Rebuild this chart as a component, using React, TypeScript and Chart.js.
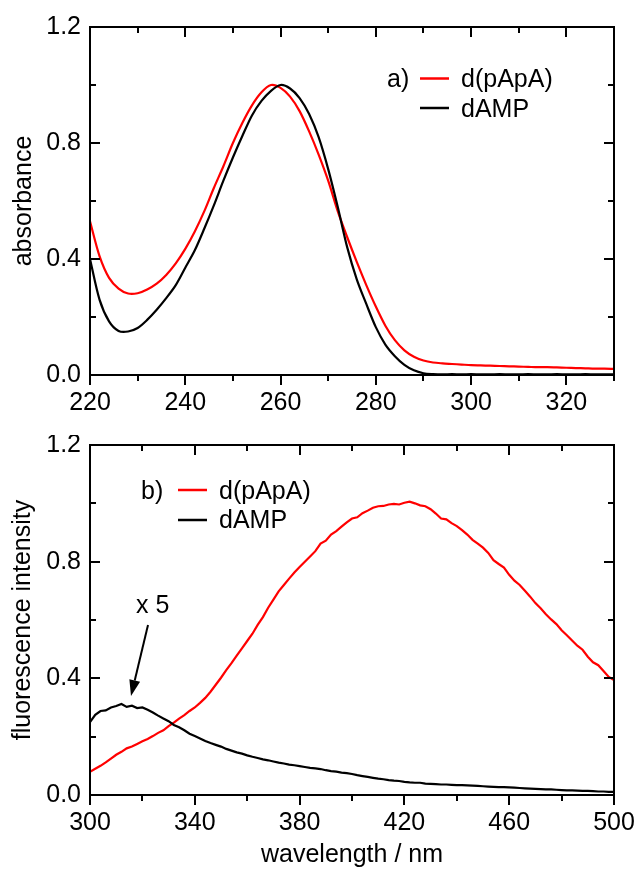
import React, { useEffect, useRef } from "react";
import { Chart, registerables } from "chart.js";

Chart.register(...registerables);

// ---------- data ----------
const ABS_WAVELENGTH = [
  220, 222, 224, 226, 228, 230, 232, 234, 236, 238, 240, 242, 244, 246, 248, 250,
  252, 254, 256, 258, 260, 262, 264, 266, 268, 270, 272, 274, 276, 278, 280, 282,
  284, 286, 288, 290, 292, 294, 296, 298, 300, 302, 304, 306, 308, 310, 312, 314,
  316, 318, 320, 322, 324, 326, 328, 330,
];
const ABS_DPAPA = [
  0.53, 0.41, 0.335, 0.298, 0.281, 0.282, 0.295, 0.315, 0.345, 0.385, 0.435, 0.495,
  0.565, 0.645, 0.72, 0.8, 0.87, 0.93, 0.975, 1.0, 0.99, 0.96, 0.91, 0.84, 0.76,
  0.67, 0.565, 0.475, 0.39, 0.31, 0.236, 0.17, 0.12, 0.085, 0.063, 0.05, 0.043,
  0.04, 0.038, 0.036, 0.034, 0.033, 0.032, 0.031, 0.03, 0.029, 0.028, 0.027,
  0.027, 0.026, 0.025, 0.024, 0.023, 0.022, 0.022, 0.021,
];
const ABS_DAMP = [
  0.4, 0.26, 0.185, 0.152, 0.15, 0.162, 0.19, 0.225, 0.265, 0.31, 0.37, 0.43,
  0.505, 0.585, 0.67, 0.75, 0.825, 0.895, 0.945, 0.98, 1.0, 0.988, 0.955, 0.9,
  0.82, 0.71, 0.58, 0.44, 0.33, 0.245, 0.165, 0.105, 0.065, 0.035, 0.016, 0.006,
  0.003, 0.002, 0.003, 0.002, 0.003, 0.002, 0.002, 0.003, 0.002, 0.002, 0.003,
  0.002, 0.002, 0.003, 0.002, 0.002, 0.003, 0.002, 0.002, 0.002,
];

const FL_WAVELENGTH = [
  300, 302, 304, 306, 308, 310, 312, 314, 316, 318, 320, 322, 324, 326, 328, 330,
  332, 334, 336, 338, 340, 342, 344, 346, 348, 350, 352, 354, 356, 358, 360, 362,
  364, 366, 368, 370, 372, 374, 376, 378, 380, 382, 384, 386, 388, 390, 392, 394,
  396, 398, 400, 402, 404, 406, 408, 410, 412, 414, 416, 418, 420, 422, 424, 426,
  428, 430, 432, 434, 436, 438, 440, 442, 444, 446, 448, 450, 452, 454, 456, 458,
  460, 462, 464, 466, 468, 470, 472, 474, 476, 478, 480, 482, 484, 486, 488, 490,
  492, 494, 496, 498, 500,
];
const FL_DPAPA = [
  0.08, 0.09, 0.1, 0.112, 0.125, 0.138, 0.148, 0.16, 0.166, 0.175, 0.184, 0.192,
  0.202, 0.213, 0.222, 0.236, 0.248, 0.262, 0.274, 0.288, 0.3, 0.316, 0.333, 0.354,
  0.378, 0.402, 0.428, 0.452, 0.478, 0.503, 0.528, 0.553, 0.583, 0.61, 0.642, 0.67,
  0.698, 0.72, 0.742, 0.763, 0.782, 0.8, 0.818, 0.836, 0.862, 0.872, 0.893, 0.905,
  0.92, 0.935, 0.948, 0.952, 0.966, 0.975, 0.985, 0.99, 0.991, 0.996, 0.998, 0.996,
  1.002, 1.006, 1.0, 0.993, 0.99, 0.98, 0.965, 0.948, 0.945, 0.932, 0.922, 0.908,
  0.893, 0.875, 0.862, 0.848, 0.83, 0.805, 0.792, 0.78, 0.755, 0.735, 0.72, 0.7,
  0.68, 0.658, 0.64, 0.62, 0.602, 0.586, 0.565, 0.548, 0.53, 0.512, 0.498, 0.474,
  0.455, 0.445, 0.425, 0.405, 0.394,
];
const FL_DAMP = [
  0.25, 0.275, 0.288, 0.29, 0.3, 0.305, 0.312, 0.302, 0.306, 0.298, 0.3, 0.292,
  0.283, 0.272, 0.262, 0.253, 0.24, 0.232, 0.222, 0.21, 0.202, 0.194, 0.185, 0.178,
  0.172, 0.166, 0.158, 0.152, 0.146, 0.142, 0.136, 0.131, 0.127, 0.122, 0.119,
  0.115, 0.111, 0.108, 0.104, 0.102, 0.099, 0.096, 0.093, 0.091, 0.089, 0.085,
  0.082, 0.08, 0.077, 0.075, 0.072, 0.068, 0.065, 0.062, 0.059, 0.056, 0.054,
  0.051, 0.049, 0.048, 0.045, 0.043, 0.042, 0.042, 0.039, 0.038, 0.037, 0.036,
  0.036, 0.035, 0.034, 0.034, 0.033, 0.032, 0.031, 0.03, 0.029, 0.028, 0.027,
  0.027, 0.026, 0.025, 0.024, 0.023, 0.022, 0.021, 0.02, 0.019, 0.019, 0.018,
  0.017, 0.016, 0.016, 0.015, 0.014, 0.014, 0.013, 0.012, 0.012, 0.011, 0.011,
];

const ABS_X_MAJOR = [220, 240, 260, 280, 300, 320];
const ABS_X_MINOR = [230, 250, 270, 290, 310, 330];
const FL_X_MAJOR = [300, 340, 380, 420, 460, 500];
const FL_X_MINOR = [320, 360, 400, 440, 480];
const Y_MAJOR = [0, 0.4, 0.8, 1.2];
const Y_MINOR = [0.2, 0.6, 1.0];

const SERIES_NAMES = ["d(pApA)", "dAMP"];
const SERIES_COLORS = ["#ff0000", "#000000"];
const PANEL_LABELS = ["a)", "b)"];
const ANNOTATION_TEXT = "x 5";

// ---------- styling ----------
const FONT = '"Liberation Sans", Arial, Helvetica, sans-serif';
const FS = 25;
const MAJ = 10;
const MIN = 6;

type LegendSpec = {
  label: string;
  labelX: number;
  lineX0: number;
  lineX1: number;
  textX: number;
  base1: number;
  base2: number;
  line1: number;
  line2: number;
};

function makeFramePlugin(
  xMajor: number[],
  xMinor: number[],
  legend: LegendSpec,
  annotation?: { text: string; tx: number; ty: number; ax0: number; ay0: number; ax1: number; ay1: number }
) {
  return {
    id: "frameTicks",
    afterDatasetsDraw(chart: any) {
      const { ctx, chartArea: a, scales } = chart;
      const xs = scales.x;
      const ys = scales.y;
      ctx.save();
      ctx.strokeStyle = "#000";
      ctx.lineWidth = 2;
      ctx.lineCap = "butt";
      ctx.beginPath();
      ctx.rect(a.left, a.top, a.right - a.left, a.bottom - a.top);
      ctx.stroke();

      ctx.beginPath();
      const xt = (v: number, len: number) => {
        const px = Math.round(xs.getPixelForValue(v));
        ctx.moveTo(px, a.bottom);
        ctx.lineTo(px, a.bottom + len);
        ctx.moveTo(px, a.top);
        ctx.lineTo(px, a.top + len);
      };
      const yt = (v: number, len: number) => {
        const py = Math.round(ys.getPixelForValue(v));
        ctx.moveTo(a.left, py);
        ctx.lineTo(a.left + len, py);
        ctx.moveTo(a.right, py);
        ctx.lineTo(a.right - len, py);
      };
      xMajor.forEach((v) => xt(v, MAJ));
      xMinor.forEach((v) => xt(v, MIN));
      Y_MAJOR.forEach((v) => yt(v, MAJ));
      Y_MINOR.forEach((v) => yt(v, MIN));
      ctx.stroke();

      // legend
      ctx.font = `${FS}px ${FONT}`;
      ctx.fillStyle = "#000";
      ctx.textBaseline = "alphabetic";
      ctx.textAlign = "left";
      ctx.fillText(legend.label, legend.labelX, legend.base1);
      ctx.fillText(SERIES_NAMES[0], legend.textX, legend.base1);
      ctx.fillText(SERIES_NAMES[1], legend.textX, legend.base2);
      ctx.lineWidth = 2.5;
      ctx.strokeStyle = SERIES_COLORS[0];
      ctx.beginPath();
      ctx.moveTo(legend.lineX0, legend.line1);
      ctx.lineTo(legend.lineX1, legend.line1);
      ctx.stroke();
      ctx.strokeStyle = SERIES_COLORS[1];
      ctx.beginPath();
      ctx.moveTo(legend.lineX0, legend.line2);
      ctx.lineTo(legend.lineX1, legend.line2);
      ctx.stroke();

      if (annotation) {
        ctx.fillStyle = "#000";
        ctx.fillText(annotation.text, annotation.tx, annotation.ty);
        const { ax0, ay0, ax1, ay1 } = annotation;
        const dx = ax1 - ax0;
        const dy = ay1 - ay0;
        const L = Math.hypot(dx, dy);
        const ux = dx / L;
        const uy = dy / L;
        const hl = 16;
        const hw = 5.5;
        const bx = ax1 - ux * hl;
        const by = ay1 - uy * hl;
        ctx.strokeStyle = "#000";
        ctx.lineWidth = 2;
        ctx.beginPath();
        ctx.moveTo(ax0, ay0);
        ctx.lineTo(bx, by);
        ctx.stroke();
        ctx.beginPath();
        ctx.moveTo(ax1, ay1);
        ctx.lineTo(bx - uy * hw, by + ux * hw);
        ctx.lineTo(bx + uy * hw, by - ux * hw);
        ctx.closePath();
        ctx.fill();
      }
      ctx.restore();
    },
  };
}

function buildConfig(opts: {
  xs: number[];
  s1: number[];
  s2: number[];
  xMin: number;
  xMax: number;
  xMajor: number[];
  xMinor: number[];
  yTitle: string;
  yTitlePad: number;
  xTitle?: string;
  padTop: number;
  xAxisHeight: number;
  tension: number;
  legend: LegendSpec;
  annotation?: any;
}) {
  const toPts = (ys: number[]) => opts.xs.map((x, i) => ({ x, y: ys[i] }));
  return {
    type: "line",
    data: {
      datasets: [
        {
          label: SERIES_NAMES[1],
          data: toPts(opts.s2),
          borderColor: SERIES_COLORS[1],
          borderWidth: 2.2,
          pointRadius: 0,
          tension: opts.tension,
          fill: false,
        },
        {
          label: SERIES_NAMES[0],
          data: toPts(opts.s1),
          borderColor: SERIES_COLORS[0],
          borderWidth: 2.2,
          pointRadius: 0,
          tension: opts.tension,
          fill: false,
        },
      ],
    },
    options: {
      animation: false,
      responsive: true,
      maintainAspectRatio: false,
      events: [],
      layout: { padding: { top: opts.padTop, left: 0, right: 22, bottom: 0 } },
      plugins: { legend: { display: false }, tooltip: { enabled: false } },
      scales: {
        x: {
          type: "linear",
          min: opts.xMin,
          max: opts.xMax,
          afterBuildTicks: (s: any) => {
            s.ticks = opts.xMajor.map((v) => ({ value: v }));
          },
          afterFit: (s: any) => {
            s.height = opts.xAxisHeight;
            s.paddingLeft = 0;
            s.paddingRight = 0;
          },
          grid: { display: false, drawTicks: false },
          border: { display: false },
          ticks: {
            color: "#000",
            font: { family: FONT, size: FS },
            padding: 13,
            maxRotation: 0,
            autoSkip: false,
            callback: (v: any) => String(v),
          },
          title: opts.xTitle
            ? {
                display: true,
                text: opts.xTitle,
                color: "#000",
                font: { family: FONT, size: FS },
                padding: { top: 0, bottom: 1 },
              }
            : { display: false },
        },
        y: {
          type: "linear",
          min: 0,
          max: 1.2,
          afterBuildTicks: (s: any) => {
            s.ticks = Y_MAJOR.map((v) => ({ value: v }));
          },
          afterFit: (s: any) => {
            s.width = 90;
            s.paddingTop = 0;
            s.paddingBottom = 0;
          },
          grid: { display: false, drawTicks: false },
          border: { display: false },
          ticks: {
            color: "#000",
            font: { family: FONT, size: FS },
            padding: 9,
            autoSkip: false,
            callback: (v: any) => Number(v).toFixed(1),
          },
          title: {
            display: true,
            text: opts.yTitle,
            color: "#000",
            font: { family: FONT, size: FS },
            padding: { top: opts.yTitlePad, bottom: 0 },
          },
        },
      },
    },
    plugins: [makeFramePlugin(opts.xMajor, opts.xMinor, opts.legend, opts.annotation)],
  };
}

function Panel(props: { config: any; top: number; height: number }) {
  const ref = useRef<HTMLCanvasElement | null>(null);
  useEffect(() => {
    if (!ref.current) return;
    const chart = new Chart(ref.current, props.config);
    return () => chart.destroy();
  }, []);
  return (
    <div
      style={{
        position: "absolute",
        left: 0,
        top: props.top,
        width: 636,
        height: props.height,
      }}
    >
      <canvas ref={ref} />
    </div>
  );
}

export default function App() {
  const topCfg = buildConfig({
    xs: ABS_WAVELENGTH,
    s1: ABS_DPAPA,
    s2: ABS_DAMP,
    xMin: 220,
    xMax: 330,
    xMajor: ABS_X_MAJOR,
    xMinor: ABS_X_MINOR,
    yTitle: "absorbance",
    yTitlePad: 9,
    padTop: 27,
    xAxisHeight: 60,
    tension: 0.3,
    legend: {
      label: PANEL_LABELS[0],
      labelX: 387,
      lineX0: 420,
      lineX1: 449,
      textX: 461,
      base1: 87,
      base2: 116.5,
      line1: 78.5,
      line2: 108,
    },
  });
  const botCfg = buildConfig({
    xs: FL_WAVELENGTH,
    s1: FL_DPAPA,
    s2: FL_DAMP,
    xMin: 300,
    xMax: 500,
    xMajor: FL_X_MAJOR,
    xMinor: FL_X_MINOR,
    yTitle: "fluorescence intensity",
    yTitlePad: 8,
    xTitle: "wavelength / nm",
    padTop: 10,
    xAxisHeight: 76,
    tension: 0,
    legend: {
      label: PANEL_LABELS[1],
      labelX: 141,
      lineX0: 178,
      lineX1: 207,
      textX: 219,
      base1: 64.3,
      base2: 93.3,
      line1: 55,
      line2: 85,
    },
    annotation: { text: ANNOTATION_TEXT, tx: 136, ty: 178, ax0: 148, ay0: 190, ax1: 131, ay1: 261 },
  });
  return (
    <div style={{ position: "absolute", left: 0, top: 0, width: 636, height: 871, background: "#fff" }}>
      <Panel config={topCfg} top={0} height={435} />
      <Panel config={botCfg} top={435} height={436} />
    </div>
  );
}
